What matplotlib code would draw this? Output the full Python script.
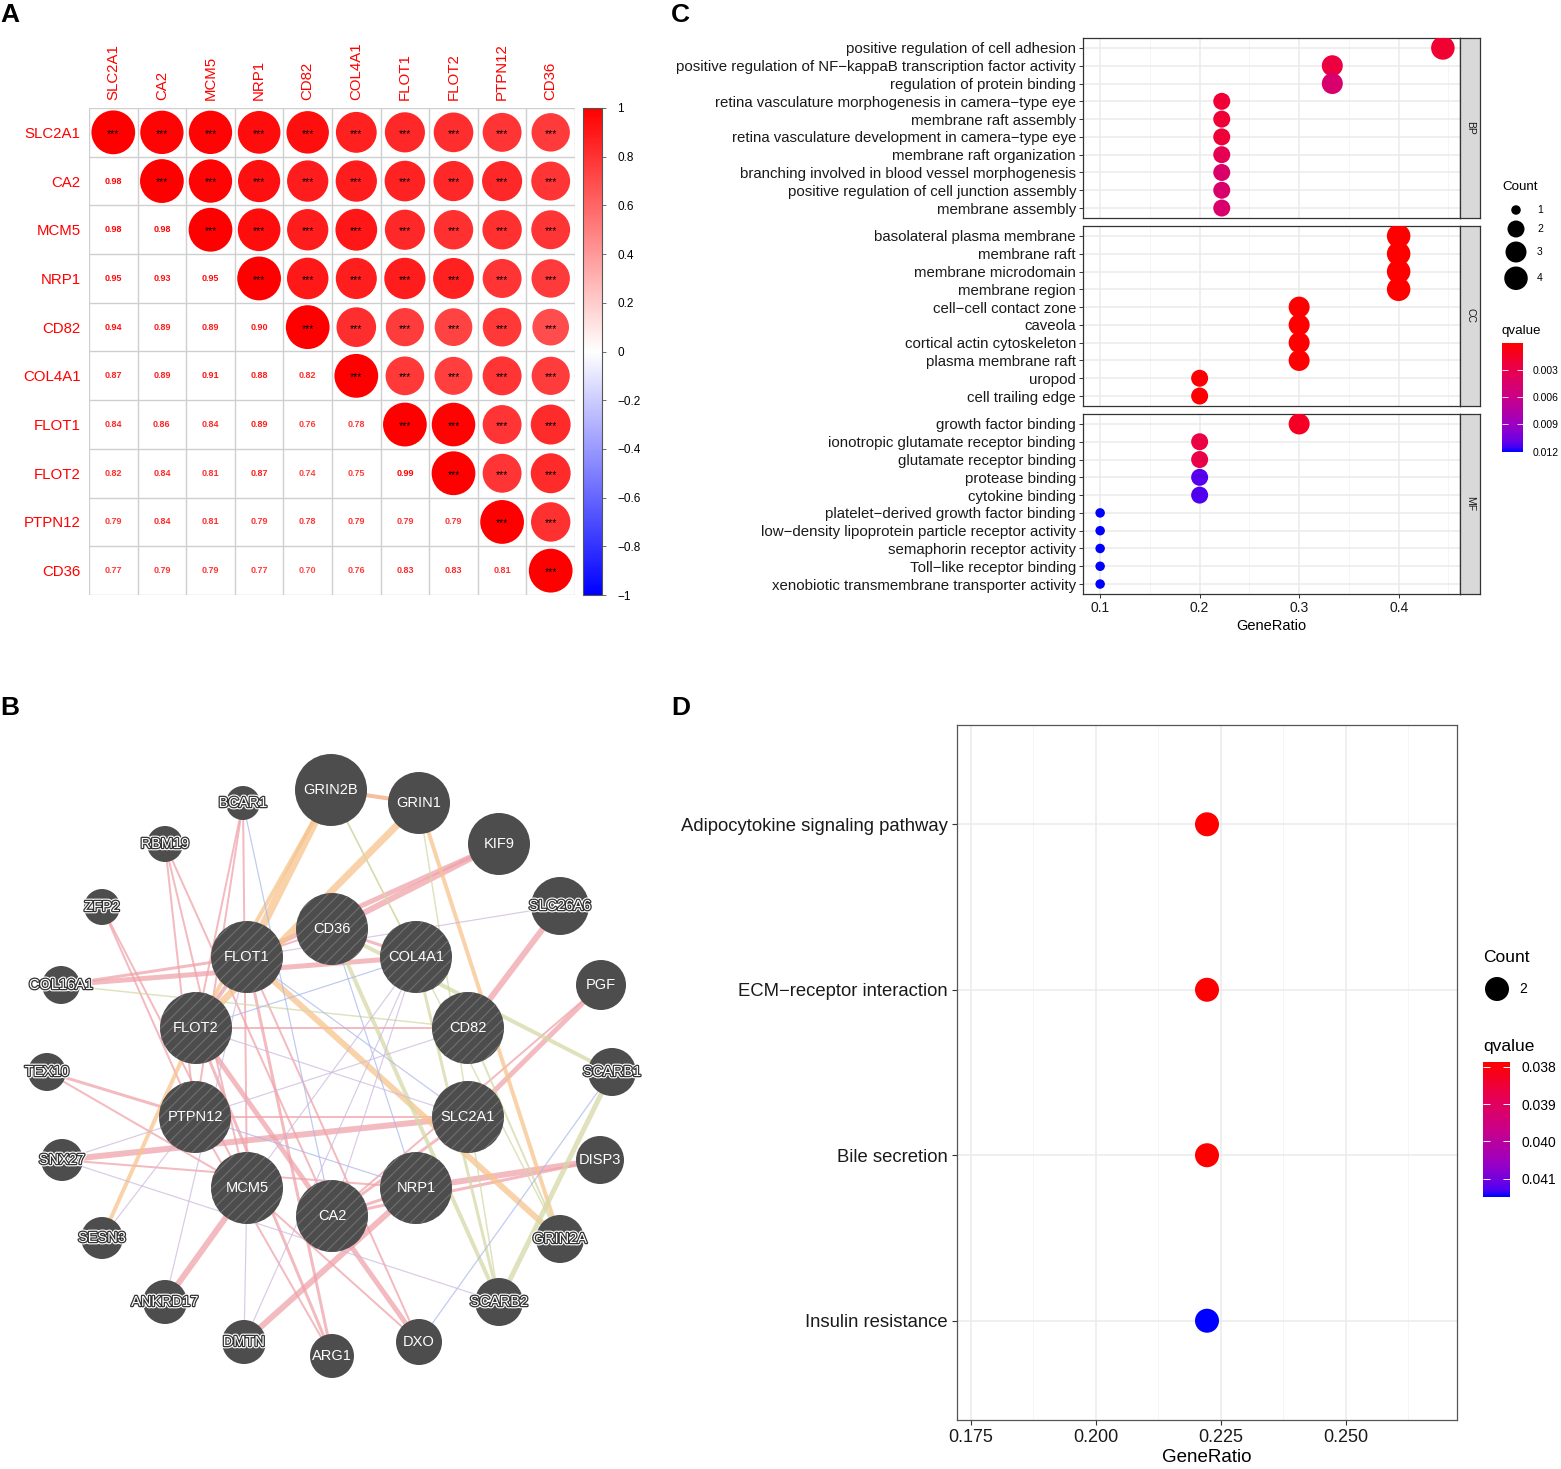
import matplotlib

matplotlib.use("Agg")
import matplotlib.pyplot as plt  # noqa: E402
import numpy as np  # noqa: E402
from matplotlib import patheffects as pe  # noqa: E402
from matplotlib.cm import ScalarMappable  # noqa: E402
from matplotlib.colors import LinearSegmentedColormap, Normalize  # noqa: E402
from matplotlib.patches import Circle  # noqa: E402

plt.rcParams["font.family"] = ["Liberation Sans", "DejaVu Sans"]
plt.rcParams["hatch.linewidth"] = 0.8

# ---------------- data: panel A (correlation, lower triangle) ----------------
genes = ["SLC2A1", "CA2", "MCM5", "NRP1", "CD82", "COL4A1", "FLOT1", "FLOT2", "PTPN12", "CD36"]
corr_lower = [
    [],
    [0.98],
    [0.98, 0.98],
    [0.95, 0.93, 0.95],
    [0.94, 0.89, 0.89, 0.90],
    [0.87, 0.89, 0.91, 0.88, 0.82],
    [0.84, 0.86, 0.84, 0.89, 0.76, 0.78],
    [0.82, 0.84, 0.81, 0.87, 0.74, 0.75, 0.99],
    [0.79, 0.84, 0.81, 0.79, 0.78, 0.79, 0.79, 0.79],
    [0.77, 0.79, 0.79, 0.77, 0.70, 0.76, 0.83, 0.83, 0.81],
]
corr_ticks = [1, 0.8, 0.6, 0.4, 0.2, 0, -0.2, -0.4, -0.6, -0.8, -1]

# ---------------- data: panel B (GeneMANIA network) ----------------
node_names = ["GRIN2B", "GRIN1", "BCAR1", "RBM19", "KIF9", "ZFP2", "SLC26A6", "CD36", "FLOT1",
              "COL4A1", "COL16A1", "PGF", "FLOT2", "CD82", "TEX10", "SCARB1", "PTPN12", "SLC2A1",
              "SNX27", "DISP3", "MCM5", "NRP1", "CA2", "SESN3", "GRIN2A", "ANKRD17", "SCARB2",
              "DMTN", "ARG1", "DXO"]
node_x = [331, 419, 243, 165, 499, 102, 560, 332, 247, 416, 61, 601, 196, 468, 47, 612, 195, 468,
          62, 600, 247, 416, 332, 102, 560, 165, 499, 244, 332, 419]
node_y = [790, 803, 803, 844, 844, 907, 906, 929, 957, 957, 985, 985, 1028, 1028, 1072, 1072, 1117,
          1117, 1160, 1160, 1188, 1188, 1216, 1238, 1239, 1302, 1302, 1342, 1356, 1342]
node_r = [36, 31, 17, 18, 31, 18, 29, 36, 36, 36, 19, 25, 36, 36, 19, 24, 36, 36,
          21, 24, 36, 36, 36, 21, 24, 22, 24, 22, 22, 23]
query_genes = genes

# (source, target, network type, width px)
edges = [
    ("KIF9", "CD36", "coexp", 6), ("KIF9", "FLOT1", "coexp", 5), ("COL16A1", "FLOT1", "coexp", 3),
    ("COL16A1", "COL4A1", "coexp", 5), ("TEX10", "PTPN12", "coexp", 3), ("TEX10", "MCM5", "coexp", 2),
    ("SNX27", "SLC2A1", "coexp", 6), ("SNX27", "NRP1", "coexp", 2), ("DISP3", "NRP1", "coexp", 6),
    ("DISP3", "CA2", "coexp", 3), ("PGF", "SLC2A1", "coexp", 5), ("PGF", "CA2", "coexp", 2),
    ("SLC26A6", "CD82", "coexp", 6), ("ZFP2", "PTPN12", "coexp", 2), ("ZFP2", "MCM5", "coexp", 2),
    ("RBM19", "PTPN12", "coexp", 2), ("RBM19", "MCM5", "coexp", 2), ("RBM19", "CA2", "coexp", 2),
    ("BCAR1", "FLOT2", "coexp", 2), ("BCAR1", "PTPN12", "coexp", 2), ("BCAR1", "MCM5", "coexp", 2),
    ("ANKRD17", "MCM5", "coexp", 6), ("DMTN", "NRP1", "coexp", 6), ("ARG1", "FLOT1", "coexp", 3),
    ("ARG1", "FLOT2", "coexp", 3), ("DXO", "FLOT2", "coexp", 5), ("DXO", "FLOT1", "coexp", 2),
    ("CA2", "NRP1", "coexp", 3), ("CA2", "SLC2A1", "coexp", 3), ("FLOT1", "FLOT2", "coexp", 4),
    ("GRIN2B", "GRIN1", "coexp", 4), ("CD36", "COL4A1", "coexp", 3), ("FLOT2", "CD82", "coexp", 2),
    ("PTPN12", "SLC2A1", "coexp", 2), ("CD36", "FLOT1", "coexp", 2), ("MCM5", "DXO", "coexp", 2),
    ("PTPN12", "ARG1", "coexp", 2),
    ("GRIN2B", "FLOT1", "pathway", 8), ("GRIN2B", "FLOT2", "pathway", 4), ("GRIN1", "FLOT2", "pathway", 7),
    ("GRIN1", "GRIN2A", "pathway", 4), ("FLOT1", "GRIN2A", "pathway", 6), ("SESN3", "FLOT2", "pathway", 4),
    ("GRIN2B", "GRIN1", "pathway", 3),
    ("CD36", "SCARB1", "shared", 4), ("CD36", "SCARB2", "shared", 4), ("COL4A1", "SCARB2", "shared", 3),
    ("SCARB1", "SCARB2", "shared", 5), ("GRIN2B", "COL4A1", "shared", 1.5), ("COL16A1", "CD82", "shared", 1.5),
    ("GRIN1", "SCARB2", "shared", 1.5), ("CD82", "GRIN2A", "shared", 2), ("GRIN2B", "GRIN2A", "shared", 1.5),
    ("BCAR1", "CA2", "physical", 1.2), ("SCARB1", "DXO", "physical", 1.2), ("COL4A1", "FLOT2", "physical", 1.2),
    ("PTPN12", "NRP1", "physical", 1.2), ("CD36", "NRP1", "physical", 1.2), ("FLOT1", "SLC2A1", "physical", 1.2),
    ("SNX27", "PTPN12", "predicted", 1.2), ("SNX27", "SCARB2", "predicted", 1.2), ("MCM5", "COL4A1", "predicted", 1.2),
    ("FLOT2", "SLC2A1", "predicted", 1.2), ("SLC26A6", "FLOT1", "predicted", 1.2),
    ("ANKRD17", "FLOT1", "predicted", 1.2), ("DMTN", "MCM5", "predicted", 1.2), ("COL4A1", "CA2", "predicted", 1.2),
    ("CD82", "PTPN12", "predicted", 1.2), ("DMTN", "COL4A1", "predicted", 1.2), ("SESN3", "PTPN12", "predicted", 1.2),
]
edge_colors = {"coexp": "#F0A3AA", "pathway": "#F7C48C", "shared": "#D5D9A6",
               "physical": "#A9B8EA", "predicted": "#CDB9DE"}

# ---------------- data: panel C (GO enrichment) ----------------
bp_terms = ["positive regulation of cell adhesion",
            "positive regulation of NF\u2212kappaB transcription factor activity",
            "regulation of protein binding",
            "retina vasculature morphogenesis in camera\u2212type eye",
            "membrane raft assembly",
            "retina vasculature development in camera\u2212type eye",
            "membrane raft organization",
            "branching involved in blood vessel morphogenesis",
            "positive regulation of cell junction assembly",
            "membrane assembly"]
bp_ratio = [4 / 9, 3 / 9, 3 / 9, 2 / 9, 2 / 9, 2 / 9, 2 / 9, 2 / 9, 2 / 9, 2 / 9]
bp_count = [4, 3, 3, 2, 2, 2, 2, 2, 2, 2]
bp_q = [0.0019, 0.0024, 0.0046, 0.0020, 0.0020, 0.0021, 0.0032, 0.0044, 0.0045, 0.0045]

cc_terms = ["basolateral plasma membrane", "membrane raft", "membrane microdomain", "membrane region",
            "cell\u2212cell contact zone", "caveola", "cortical actin cytoskeleton", "plasma membrane raft",
            "uropod", "cell trailing edge"]
cc_ratio = [0.4, 0.4, 0.4, 0.4, 0.3, 0.3, 0.3, 0.3, 0.2, 0.2]
cc_count = [4, 4, 4, 4, 3, 3, 3, 3, 2, 2]
cc_q = [0.00002, 0.00002, 0.00002, 0.00003, 0.0001, 0.0001, 0.0001, 0.0001, 0.0002, 0.0002]

mf_terms = ["growth factor binding", "ionotropic glutamate receptor binding", "glutamate receptor binding",
            "protease binding", "cytokine binding", "platelet\u2212derived growth factor binding",
            "low\u2212density lipoprotein particle receptor activity", "semaphorin receptor activity",
            "Toll\u2212like receptor binding", "xenobiotic transmembrane transporter activity"]
mf_ratio = [0.3, 0.2, 0.2, 0.2, 0.2, 0.1, 0.1, 0.1, 0.1, 0.1]
mf_count = [3, 2, 2, 2, 2, 1, 1, 1, 1, 1]
mf_q = [0.0014, 0.0026, 0.0027, 0.0112, 0.0113, 0.01205, 0.01205, 0.01205, 0.01205, 0.01205]

go_ticks = [0.1, 0.2, 0.3, 0.4]
go_q_ticks = [0.003, 0.006, 0.009, 0.012]

# ---------------- data: panel D (KEGG enrichment) ----------------
kegg_terms = ["Adipocytokine signaling pathway", "ECM\u2212receptor interaction", "Bile secretion",
              "Insulin resistance"]
kegg_ratio = [2 / 9, 2 / 9, 2 / 9, 2 / 9]
kegg_count = [2, 2, 2, 2]
kegg_q = [0.03787, 0.03787, 0.03787, 0.04149]
kegg_ticks = [0.175, 0.200, 0.225, 0.250]
kegg_q_ticks = [0.038, 0.039, 0.040, 0.041]

# ---------------- figure ----------------
W, H = 1561, 1469
fig = plt.figure(figsize=(W / 100, H / 100), dpi=100)


def px_axes(x0, y0, x1, y1):
    return fig.add_axes([x0 / W, 1 - y1 / H, (x1 - x0) / W, (y1 - y0) / H])


def pt(px):
    return px * 0.72


for letter, (lx, ly) in zip("ABCD", [(0, 15), (0, 708), (671, 15), (671, 708)]):
    fig.text(lx / W, 1 - ly / H, letter, fontsize=19, fontweight="bold", va="center", ha="left")

# ---- A: corrplot ----
n = len(genes)
corr = np.eye(n)
for i, row in enumerate(corr_lower):
    for j, v in enumerate(row):
        corr[i, j] = corr[j, i] = v

corr_cmap = LinearSegmentedColormap.from_list("bwr_pure", ["#0000FF", "#FFFFFF", "#FF0000"])
corr_norm = Normalize(-1, 1)
axA = px_axes(89, 108, 575, 595)
axA.set_xlim(-0.5, n - 0.5)
axA.set_ylim(n - 0.5, -0.5)
for k in range(n + 1):
    axA.axhline(k - 0.5, color="#CFCFCF", lw=1, zorder=1)
    axA.axvline(k - 0.5, color="#CFCFCF", lw=1, zorder=1)
for i in range(n):
    for j in range(n):
        col = corr_cmap(corr_norm(corr[i, j]))
        if j >= i:
            axA.add_patch(Circle((j, i), 0.45 * np.sqrt(abs(corr[i, j])), facecolor=col,
                                 edgecolor="none", zorder=2))
            axA.text(j, i + 0.03, "***", ha="center", va="center", fontsize=7.5, color="black", zorder=3)
        else:
            axA.text(j, i, f"{corr[i, j]:.2f}", ha="center", va="center", fontsize=6.5,
                     fontweight="bold", color=col, zorder=3)
axA.set_xticks(range(n))
axA.set_yticks(range(n))
axA.set_xticklabels(genes, rotation=90, color="#FF0000", fontsize=10.8)
axA.set_yticklabels(genes, color="#FF0000", fontsize=10.8)
axA.xaxis.tick_top()
axA.tick_params(length=0, pad=6)
for s in axA.spines.values():
    s.set_visible(False)

caxA = px_axes(583, 108, 602, 595)
cbA = fig.colorbar(ScalarMappable(norm=corr_norm, cmap=corr_cmap), cax=caxA)
cbA.set_ticks(corr_ticks)
cbA.set_ticklabels([f"{t:g}".replace("-", "\u2212") for t in corr_ticks])
cbA.outline.set_edgecolor("#555555")
cbA.outline.set_linewidth(0.8)
caxA.tick_params(labelsize=8.5, length=3, width=0.6, color="#555555", pad=8)

# ---- B: network ----
axB = px_axes(0, 730, 660, 1400)
axB.set_xlim(0, 660)
axB.set_ylim(1400, 730)
axB.axis("off")
pos = {nm: (x, y) for nm, x, y in zip(node_names, node_x, node_y)}
for a, b, kind, w in edges:
    (xa, ya), (xb, yb) = pos[a], pos[b]
    axB.plot([xa, xb], [ya, yb], color=edge_colors[kind], lw=pt(w), alpha=0.75,
             solid_capstyle="butt", zorder=1)
renderer = fig.canvas.get_renderer()
for nm, x, y, r in zip(node_names, node_x, node_y, node_r):
    axB.add_patch(Circle((x, y), r, facecolor="#4D4D4D", edgecolor="none", zorder=3))
    if nm in query_genes:
        axB.add_patch(Circle((x, y), r, facecolor="none", edgecolor="#707070", hatch="///",
                             lw=0, zorder=4))
    t = axB.text(x, y, nm, ha="center", va="center", fontsize=10.5, color="white", zorder=5)
    # outlined label only where the name spills over its node
    if t.get_window_extent(renderer).width > 2 * r - 2:
        t.set_path_effects([pe.Stroke(linewidth=3.4, foreground="white"),
                            pe.Stroke(linewidth=1.8, foreground="#333333"), pe.Normal()])

# ---- C: GO dotplot ----
q_cmap = LinearSegmentedColormap.from_list(
    "q_red_blue", [(0, "#FF0000"), (0.25, "#E80050"), (0.5, "#CA0088"), (0.75, "#9A00C3"),
                   (0.875, "#7300E0"), (0.95, "#4B00F3"), (1, "#0000FF")])
all_q = bp_q + cc_q + mf_q
qnormC = Normalize(min(all_q), max(all_q))
all_ratio = bp_ratio + cc_ratio + mf_ratio
span = max(all_ratio) - min(all_ratio)
xlimC = (min(all_ratio) - 0.05 * span, max(all_ratio) + 0.05 * span)
dot_px = {1: 9.5, 2: 17, 3: 21, 4: 23.5}


def dot_s(c):
    return pt(dot_px[c]) ** 2


facets = [("BP", bp_terms, bp_ratio, bp_count, bp_q, 38, 218),
          ("CC", cc_terms, cc_ratio, cc_count, cc_q, 226, 406),
          ("MF", mf_terms, mf_ratio, mf_count, mf_q, 414, 594)]
for label, terms, ratio, count, q, y0, y1 in facets:
    ax = px_axes(1083, y0, 1460, y1)
    yy = np.arange(1, len(terms) + 1)
    ax.scatter(ratio, yy, s=[dot_s(c) for c in count], c=q, cmap=q_cmap, norm=qnormC,
               edgecolors="none", zorder=3)
    ax.set_xlim(*xlimC)
    ax.set_ylim(len(terms) + 0.56, 0.44)
    ax.set_xticks(go_ticks)
    ax.set_xticks([0.15, 0.25, 0.35, 0.45], minor=True)
    ax.set_yticks(yy)
    ax.set_yticklabels(terms, fontsize=10.8, color="#1A1A1A")
    ax.grid(True, which="major", color="#EBEBEB", lw=1.1)
    ax.grid(True, which="minor", axis="x", color="#F4F4F4", lw=0.6)
    ax.set_axisbelow(True)
    ax.tick_params(which="major", length=3, width=0.7, color="#333333", pad=2)
    ax.tick_params(which="minor", length=0)
    for s in ax.spines.values():
        s.set_color("#333333")
        s.set_linewidth(0.9)
    if label == "MF":
        ax.set_xticklabels([f"{t:g}" for t in go_ticks], fontsize=10, color="#1A1A1A")
        ax.set_xlabel("GeneRatio", fontsize=10.5, labelpad=3)
    else:
        ax.tick_params(axis="x", labelbottom=False, length=0)
    sax = px_axes(1460, y0, 1480, y1)
    sax.set_facecolor("#D9D9D9")
    sax.set_xticks([])
    sax.set_yticks([])
    for s in sax.spines.values():
        s.set_color("#333333")
        s.set_linewidth(0.9)
    sax.text(0.5, 0.5, label, rotation=-90, ha="center", va="center", fontsize=7.5,
             color="#1A1A1A", transform=sax.transAxes)

# legend C
legC = px_axes(1490, 170, 1561, 300)
legC.set_xlim(1490, 1561)
legC.set_ylim(300, 170)
legC.axis("off")
legC.text(1502, 187, "Count", fontsize=9.6, va="center", ha="left")
counts_C = sorted(set(bp_count + cc_count + mf_count))
ky = 210
for k, c in enumerate(counts_C):
    if k:
        ky += (max(17, dot_px[counts_C[k - 1]] + 4) + max(17, dot_px[c] + 4)) / 2
    legC.scatter([1516], [ky], s=dot_s(c), color="black", edgecolors="none")
    legC.text(1537, ky, str(c), fontsize=7.5, va="center", ha="left")
fig.text(1502 / W, 1 - 331 / H, "qvalue", fontsize=9.6, va="center", ha="left")
caxC = px_axes(1502, 343, 1523, 452)
cbC = fig.colorbar(ScalarMappable(norm=qnormC, cmap=q_cmap), cax=caxC)
caxC.invert_yaxis()
cbC.set_ticks(go_q_ticks)
cbC.set_ticklabels([f"{t:.3f}" for t in go_q_ticks])
cbC.outline.set_visible(False)
caxC.tick_params(which="both", direction="in", color="white", length=4, width=0.6,
                 left=True, right=True, labelleft=False, labelright=True, labelsize=7.5, pad=7)

# ---- D: KEGG dotplot ----
axD = px_axes(957, 725, 1457, 1420)
qnormD = Normalize(min(kegg_q), max(kegg_q))
yD = np.arange(1, len(kegg_terms) + 1)
axD.scatter(kegg_ratio, yD, s=pt(24) ** 2, c=kegg_q, cmap=q_cmap, norm=qnormD,
            edgecolors="none", zorder=3)
cx = kegg_ratio[0]
axD.set_xlim(cx - 0.05, cx + 0.05)
axD.set_ylim(len(kegg_terms) + 0.6, 0.4)
axD.set_xticks(kegg_ticks)
axD.set_xticks([0.1875, 0.2125, 0.2375, 0.2625], minor=True)
axD.set_xticklabels([f"{t:.3f}" for t in kegg_ticks], fontsize=13, color="#1A1A1A")
axD.set_yticks(yD)
axD.set_yticklabels(kegg_terms, fontsize=13.3, color="#1A1A1A")
axD.set_xlabel("GeneRatio", fontsize=13.5, labelpad=2)
axD.grid(True, which="major", color="#EBEBEB", lw=1.1)
axD.grid(True, which="minor", axis="x", color="#F4F4F4", lw=0.6)
axD.set_axisbelow(True)
axD.tick_params(which="major", length=3.5, width=0.8, color="#333333", pad=3)
axD.tick_params(which="minor", length=0)
for s in axD.spines.values():
    s.set_color("#555555")
    s.set_linewidth(0.9)

legD = px_axes(1475, 940, 1561, 1010)
legD.set_xlim(1475, 1561)
legD.set_ylim(1010, 940)
legD.axis("off")
legD.text(1483, 958, "Count", fontsize=12.5, va="center", ha="left")
for c in sorted(set(kegg_count)):
    legD.scatter([1497], [989], s=pt(24) ** 2, color="black", edgecolors="none")
    legD.text(1519, 989, str(c), fontsize=10, va="center", ha="left")
fig.text(1483 / W, 1 - 1047 / H, "qvalue", fontsize=12.5, va="center", ha="left")
caxD = px_axes(1483, 1062, 1510, 1197)
cbD = fig.colorbar(ScalarMappable(norm=qnormD, cmap=q_cmap), cax=caxD)
caxD.invert_yaxis()
cbD.set_ticks(kegg_q_ticks)
cbD.set_ticklabels([f"{t:.3f}" for t in kegg_q_ticks])
cbD.outline.set_visible(False)
caxD.tick_params(which="both", direction="in", color="white", length=5, width=0.7,
                 left=True, right=True, labelleft=False, labelright=True, labelsize=10, pad=8)

fig.savefig("out.png", dpi=100)
plt.close(fig)
